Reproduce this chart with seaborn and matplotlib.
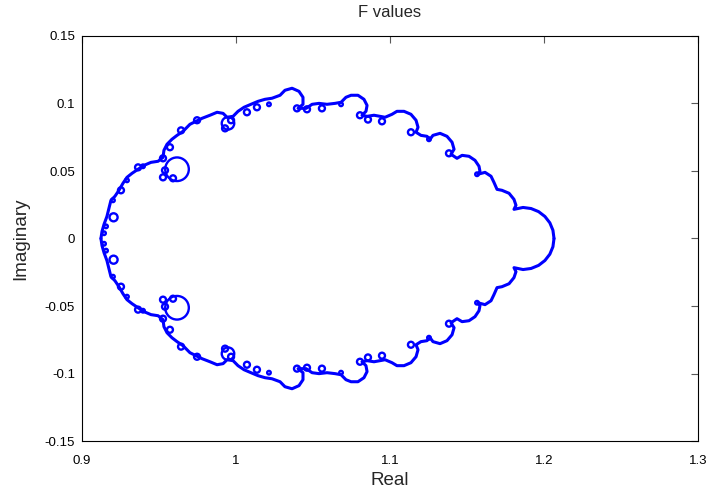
import matplotlib
matplotlib.use("Agg")
import matplotlib.pyplot as plt
import pandas as pd
import seaborn as sns

# Curve, left end (imag = 0) to right end (imag = 0).
# Both halves share the same real parts; the lower half mirrors the upper one.
real = [
    0.9123, 0.9130, 0.9143, 0.9162, 0.9175, 0.9188, 0.9214, 0.9240, 0.9266, 0.9292,
    0.9325, 0.9364, 0.9403, 0.9448, 0.9494, 0.9526, 0.9532, 0.9552, 0.9584, 0.9617,
    0.9656, 0.9701, 0.9740, 0.9779, 0.9831, 0.9877, 0.9916, 0.9942, 0.9981, 1.0013,
    1.0052, 1.0097, 1.0143, 1.0188, 1.0234, 1.0286, 1.0318, 1.0364, 1.0409, 1.0435,
    1.0435, 1.0403, 1.0455, 1.0494, 1.0539, 1.0591, 1.0643, 1.0682, 1.0714, 1.0747,
    1.0792, 1.0831, 1.0851, 1.0844, 1.0818, 1.0851, 1.0896, 1.0935, 1.0968, 1.1013,
    1.1045, 1.1091, 1.1136, 1.1169, 1.1182, 1.1169, 1.1201, 1.1240, 1.1260, 1.1279,
    1.1325, 1.1370, 1.1403, 1.1416, 1.1396, 1.1435, 1.1468, 1.1513, 1.1552, 1.1578,
    1.1584, 1.1571, 1.1617, 1.1656, 1.1675, 1.1695, 1.1727, 1.1773, 1.1805, 1.1818,
    1.1805, 1.1864, 1.1916, 1.1965, 1.2006, 1.2038, 1.2058, 1.2065,
]
imag_upper = [
    0.0000, 0.0053, 0.0105, 0.0164, 0.0224, 0.0283, 0.0313, 0.0357, 0.0409, 0.0453,
    0.0483, 0.0513, 0.0542, 0.0564, 0.0572, 0.0601, 0.0653, 0.0698, 0.0735, 0.0764,
    0.0794, 0.0846, 0.0868, 0.0890, 0.0913, 0.0935, 0.0927, 0.0898, 0.0905, 0.0942,
    0.0972, 0.0994, 0.1016, 0.1031, 0.1039, 0.1061, 0.1098, 0.1113, 0.1090, 0.1046,
    0.0994, 0.0964, 0.0964, 0.0994, 0.1001, 0.0994, 0.1001, 0.1009, 0.1046, 0.1061,
    0.1061, 0.1031, 0.0986, 0.0942, 0.0913, 0.0905, 0.0913, 0.0905, 0.0898, 0.0920,
    0.0942, 0.0942, 0.0920, 0.0876, 0.0824, 0.0787, 0.0764, 0.0757, 0.0735, 0.0764,
    0.0779, 0.0757, 0.0713, 0.0661, 0.0624, 0.0594, 0.0616, 0.0609, 0.0579, 0.0535,
    0.0498, 0.0476, 0.0490, 0.0461, 0.0416, 0.0364, 0.0357, 0.0335, 0.0290, 0.0246,
    0.0216, 0.0230, 0.0222, 0.0199, 0.0163, 0.0116, 0.0061, 0.0000,
]
imag_lower = [
    -0.0000, -0.0053, -0.0105, -0.0164, -0.0224, -0.0283, -0.0313, -0.0357, -0.0409, -0.0453,
    -0.0483, -0.0513, -0.0542, -0.0564, -0.0572, -0.0601, -0.0653, -0.0698, -0.0735, -0.0764,
    -0.0794, -0.0846, -0.0868, -0.0890, -0.0913, -0.0935, -0.0927, -0.0898, -0.0905, -0.0942,
    -0.0972, -0.0994, -0.1016, -0.1031, -0.1039, -0.1061, -0.1098, -0.1113, -0.1090, -0.1046,
    -0.0994, -0.0964, -0.0964, -0.0994, -0.1001, -0.0994, -0.1001, -0.1009, -0.1046, -0.1061,
    -0.1061, -0.1031, -0.0986, -0.0942, -0.0913, -0.0905, -0.0913, -0.0905, -0.0898, -0.0920,
    -0.0942, -0.0942, -0.0920, -0.0876, -0.0824, -0.0787, -0.0764, -0.0757, -0.0735, -0.0764,
    -0.0779, -0.0757, -0.0713, -0.0661, -0.0624, -0.0594, -0.0616, -0.0609, -0.0579, -0.0535,
    -0.0498, -0.0476, -0.0490, -0.0461, -0.0416, -0.0364, -0.0357, -0.0335, -0.0290, -0.0246,
    -0.0216, -0.0230, -0.0222, -0.0199, -0.0163, -0.0116, -0.0061, -0.0000,
]

# Centres of the loops the curve makes, grouped by loop size
big_loop_real = [0.9617, 0.9617]
big_loop_imag = [0.0513, -0.0513]

mid_loop_real = [0.9948, 0.9948]
mid_loop_imag = [0.0853, -0.0853]

left_loop_real = [0.9205, 0.9205]
left_loop_imag = [0.0157, -0.0157]

small_loop_real = [
    0.9253, 0.9364, 0.9526, 0.9539, 0.9526, 0.9591, 0.9571, 0.9643, 0.9747, 0.9929,
    0.9968, 1.0071, 1.0136, 1.0396, 1.0461, 1.0558, 1.0805, 1.0857, 1.0948, 1.1136,
    1.1383,
]
small_loop_imag_upper = [
    0.0357, 0.0527, 0.0594, 0.0505, 0.0453, 0.0446, 0.0676, 0.0801, 0.0876, 0.0816,
    0.0876, 0.0935, 0.0972, 0.0964, 0.0957, 0.0964, 0.0913, 0.0881, 0.0868, 0.0787,
    0.0631,
]
small_loop_imag_lower = [
    -0.0357, -0.0527, -0.0594, -0.0505, -0.0453, -0.0446, -0.0676, -0.0801, -0.0876, -0.0816,
    -0.0876, -0.0935, -0.0972, -0.0964, -0.0957, -0.0964, -0.0913, -0.0881, -0.0868, -0.0787,
    -0.0631,
]

tiny_loop_real = [0.9143, 0.9156, 0.9201, 0.9292, 0.9396, 1.0214, 1.0682, 1.1565, 1.1253]
tiny_loop_imag_upper = [0.0039, 0.0090, 0.0283, 0.0431, 0.0535, 0.0994, 0.0994, 0.0476, 0.0735]
tiny_loop_imag_lower = [-0.0039, -0.0090, -0.0283, -0.0431, -0.0535, -0.0994, -0.0994, -0.0476, -0.0735]

x_ticks = [0.9, 1.0, 1.1, 1.2, 1.3]
x_tick_labels = ["0.9", "1", "1.1", "1.2", "1.3"]
y_ticks = [-0.15, -0.1, -0.05, 0.0, 0.05, 0.1, 0.15]
y_tick_labels = ["-0.15", "-0.1", "-0.05", "0", "0.05", "0.1", "0.15"]

CURVE_COLOR = "#0000ff"

sns.set_theme(style="white")
plt.rcParams["font.family"] = ["Liberation Sans", "DejaVu Sans"]

fig = plt.figure(figsize=(7.08, 4.94), dpi=100)
ax = fig.add_axes([82 / 708, 53 / 494, 616 / 708, 405 / 494])

curve = pd.DataFrame({
    "Real": real + real,
    "Imaginary": imag_upper + imag_lower,
    "half": ["upper"] * len(real) + ["lower"] * len(real),
})
sns.lineplot(data=curve, x="Real", y="Imaginary", units="half", estimator=None,
             sort=False, color=CURVE_COLOR, linewidth=2.2, ax=ax)

# loops: (real, imag, marker diameter in points)
loop_groups = [
    (big_loop_real, big_loop_imag, 17.0),
    (mid_loop_real, mid_loop_imag, 9.0),
    (left_loop_real, left_loop_imag, 5.8),
    (small_loop_real + small_loop_real, small_loop_imag_upper + small_loop_imag_lower, 4.3),
    (tiny_loop_real + tiny_loop_real, tiny_loop_imag_upper + tiny_loop_imag_lower, 2.6),
]
for xs, ys, diam in loop_groups:
    sns.scatterplot(x=xs, y=ys, s=diam ** 2, marker="o", facecolors="none",
                    edgecolors=CURVE_COLOR, linewidth=1.7, ax=ax, zorder=3)

ax.set_xlim(0.9, 1.3)
ax.set_ylim(-0.15, 0.15)
ax.set_xticks(x_ticks, x_tick_labels)
ax.set_yticks(y_ticks, y_tick_labels)
ax.tick_params(axis="both", direction="in", length=5, width=0.8, color="0.35",
               top=True, right=True, labelsize=9.5, labelcolor="black")
ax.tick_params(axis="x", pad=10)
ax.tick_params(axis="y", pad=5)
for spine in ax.spines.values():
    spine.set_color("black")
    spine.set_linewidth(0.8)

ax.set_title("F values", fontsize=12, pad=14)
ax.set_xlabel("Real", fontsize=13.5, labelpad=4)
ax.set_ylabel("Imaginary", fontsize=13.5, labelpad=11)

fig.savefig("out.png", dpi=100)
